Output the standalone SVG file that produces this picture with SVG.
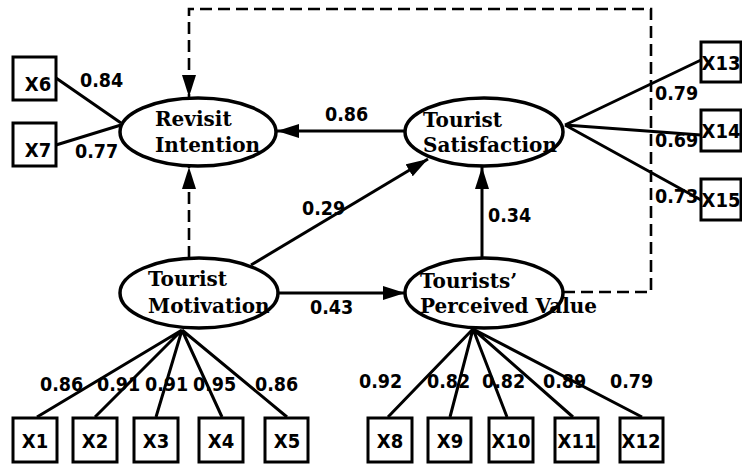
<svg xmlns="http://www.w3.org/2000/svg" width="742" height="465" viewBox="0 0 742 465">
<defs>
<marker id="arr" markerUnits="userSpaceOnUse" markerWidth="22" markerHeight="14" refX="22" refY="7" orient="auto">
<path d="M0,0 L22,7 L0,14 z" fill="#000"/>
</marker>
<style>
.lat{fill:#fff;stroke:#000;stroke-width:3.5}
.box{fill:#fff;stroke:#000;stroke-width:3}
.ln{fill:none;stroke:#000;stroke-width:3}
.dash{fill:none;stroke:#000;stroke-width:2.6;stroke-dasharray:12 6}
.lt{font-family:"DejaVu Serif","Liberation Serif",serif;font-weight:bold;font-size:20px;fill:#000}
.bt{font-family:"DejaVu Sans Condensed","DejaVu Sans","Liberation Sans",sans-serif;font-weight:bold;font-size:20px;fill:#000;text-anchor:middle}
.nt{font-family:"DejaVu Sans Condensed","DejaVu Sans","Liberation Sans",sans-serif;font-weight:bold;font-size:19.5px;fill:#000}
</style>
</defs>
<rect width="742" height="465" fill="#fff"/>
<g id="connectors">
<path class="dash" d="M563,292 H651 V9 H189 V97" marker-end="url(#arr)"/>
<path class="dash" d="M189,258 V167" marker-end="url(#arr)"/>
<path class="ln" d="M405,131 H277" marker-end="url(#arr)"/>
<path class="ln" d="M251,265 L428,159" marker-end="url(#arr)"/>
<path class="ln" d="M482,258 V167" marker-end="url(#arr)"/>
<path class="ln" d="M278,293 H405" marker-end="url(#arr)"/>
<path class="ln" d="M56,78 L121,123 M56,145 L121,125"/>
<path class="ln" d="M565,125 L701,60 M565,125 L701,135 M565,125 L701,200"/>
<path class="ln" d="M182,330 L37,417 M182,330 L95,417 M182,330 L156,417 M182,330 L222,417 M182,330 L287,417"/>
<path class="ln" d="M473,329 L388,417 M473,329 L450,417 M473,329 L507,417 M473,329 L573,417 M473,329 L642,417"/>
</g>
<g id="revisit"><ellipse class="lat" cx="198" cy="132" rx="78" ry="34"/><text class="lt" x="155" y="126">Revisit</text><text class="lt" x="155" y="152">Intention</text></g>
<g id="satisfaction"><ellipse class="lat" cx="484" cy="132" rx="79" ry="34"/><text class="lt" x="423" y="127">Tourist</text><text class="lt" x="423" y="152">Satisfaction</text></g>
<g id="motivation"><ellipse class="lat" cx="199" cy="293" rx="79" ry="35"/><text class="lt" x="148" y="286">Tourist</text><text class="lt" x="148" y="313">Motivation</text></g>
<g id="value"><ellipse class="lat" cx="484" cy="293" rx="79" ry="35"/><text class="lt" x="420" y="288">Tourists’</text><text class="lt" x="420" y="313">Perceived Value</text></g>
<g id="x6"><rect class="box" x="13" y="57" width="43" height="43"/><text class="bt" x="38" y="91">X6</text></g>
<g id="x7"><rect class="box" x="13" y="123" width="43" height="43"/><text class="bt" x="38" y="157">X7</text></g>
<g id="x13"><rect class="box" x="701" y="42" width="40" height="40"/><text class="bt" x="721" y="70">X13</text></g>
<g id="x14"><rect class="box" x="701" y="110" width="40" height="41"/><text class="bt" x="721" y="138">X14</text></g>
<g id="x15"><rect class="box" x="701" y="179" width="40" height="41"/><text class="bt" x="721" y="207">X15</text></g>
<g id="x1"><rect class="box" x="13" y="418" width="44" height="44"/><text class="bt" x="35" y="448">X1</text></g>
<g id="x2"><rect class="box" x="73" y="418" width="44" height="44"/><text class="bt" x="95" y="448">X2</text></g>
<g id="x3"><rect class="box" x="134" y="418" width="44" height="44"/><text class="bt" x="156" y="448">X3</text></g>
<g id="x4"><rect class="box" x="199" y="418" width="44" height="44"/><text class="bt" x="221" y="448">X4</text></g>
<g id="x5"><rect class="box" x="265" y="418" width="43" height="44"/><text class="bt" x="287" y="448">X5</text></g>
<g id="x8"><rect class="box" x="368" y="418" width="44" height="44"/><text class="bt" x="390" y="448">X8</text></g>
<g id="x9"><rect class="box" x="428" y="418" width="43" height="44"/><text class="bt" x="450" y="448">X9</text></g>
<g id="x10"><rect class="box" x="489" y="418" width="44" height="44"/><text class="bt" x="511" y="448">X10</text></g>
<g id="x11"><rect class="box" x="555" y="418" width="43" height="44"/><text class="bt" x="577" y="448">X11</text></g>
<g id="x12"><rect class="box" x="620" y="418" width="43" height="44"/><text class="bt" x="641" y="448">X12</text></g>
<g id="labels">
<text class="nt" x="80" y="87">0.84</text>
<text class="nt" x="75" y="158">0.77</text>
<text class="nt" x="325" y="121">0.86</text>
<text class="nt" x="302" y="215">0.29</text>
<text class="nt" x="488" y="222">0.34</text>
<text class="nt" x="310" y="314">0.43</text>
<text class="nt" x="655" y="100">0.79</text>
<text class="nt" x="655" y="147">0.69</text>
<text class="nt" x="655" y="203">0.73</text>
<text class="nt" x="40" y="391">0.86</text>
<text class="nt" x="97" y="391">0.91</text>
<text class="nt" x="145" y="391">0.91</text>
<text class="nt" x="193" y="391">0.95</text>
<text class="nt" x="255" y="391">0.86</text>
<text class="nt" x="359" y="388">0.92</text>
<text class="nt" x="427" y="388">0.82</text>
<text class="nt" x="482" y="388">0.82</text>
<text class="nt" x="543" y="388">0.89</text>
<text class="nt" x="610" y="388">0.79</text>
</g>
</svg>
